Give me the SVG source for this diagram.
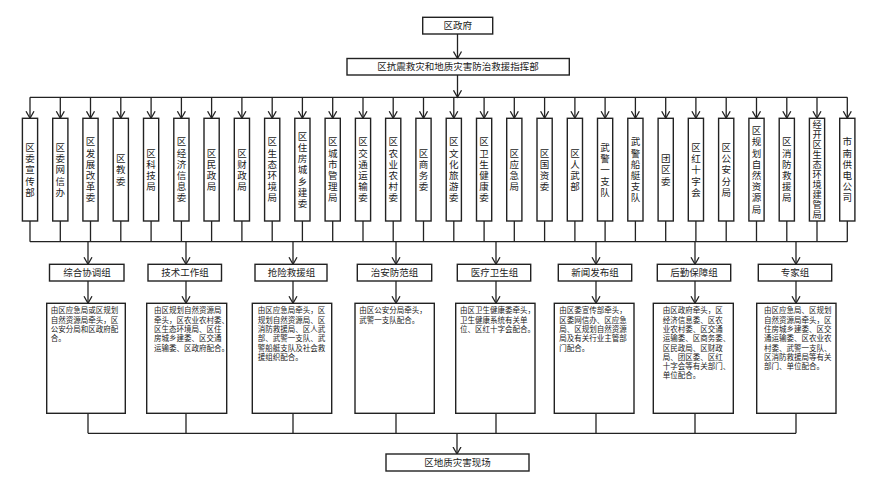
<svg xmlns="http://www.w3.org/2000/svg" width="881" height="482" viewBox="0 0 881 482">
<style>
.b{fill:#fff;stroke:#222;stroke-width:1.4}
.t{font-family:"Liberation Sans","Noto Sans CJK SC",sans-serif;font-size:9.5px;fill:#222;text-anchor:middle}
.v{font-family:"Liberation Sans","Noto Sans CJK SC",sans-serif;font-size:9.5px;fill:#222;text-anchor:middle}
.d{font-family:"Liberation Sans","Noto Sans CJK SC",sans-serif;font-size:7.5px;fill:#222}
.c{fill:none;stroke:#222;stroke-width:1.3}
.a{marker-end:url(#ah)}
</style>
<defs>
<marker id="ah" markerUnits="userSpaceOnUse" markerWidth="9" markerHeight="10" viewBox="0 0 9 10" refX="7.5" refY="5" orient="auto">
<path d="M0.5,1 L7.5,5 L0.5,9" fill="none" stroke="#222" stroke-width="1.3"/>
</marker>
</defs>
<rect width="881" height="482" fill="#fff"/>
<g id="connectors">
<path class="c a" d="M457.5,34 V58.5"/>
<path class="c a" d="M457.5,75 V97.3"/>
<path class="c" d="M30,97.3 H847.3"/>
<path class="c a" d="M30,97.3V118.3"/>
<path class="c a" d="M60.3,97.3V118.3"/>
<path class="c a" d="M90.5,97.3V118.3"/>
<path class="c a" d="M120.8,97.3V118.3"/>
<path class="c a" d="M151.1,97.3V118.3"/>
<path class="c a" d="M181.4,97.3V118.3"/>
<path class="c a" d="M211.6,97.3V118.3"/>
<path class="c a" d="M241.9,97.3V118.3"/>
<path class="c a" d="M272.2,97.3V118.3"/>
<path class="c a" d="M302.4,97.3V118.3"/>
<path class="c a" d="M332.7,97.3V118.3"/>
<path class="c a" d="M363,97.3V118.3"/>
<path class="c a" d="M393.2,97.3V118.3"/>
<path class="c a" d="M423.5,97.3V118.3"/>
<path class="c a" d="M453.8,97.3V118.3"/>
<path class="c a" d="M484.1,97.3V118.3"/>
<path class="c a" d="M514.3,97.3V118.3"/>
<path class="c a" d="M544.6,97.3V118.3"/>
<path class="c a" d="M574.9,97.3V118.3"/>
<path class="c a" d="M605.1,97.3V118.3"/>
<path class="c a" d="M635.4,97.3V118.3"/>
<path class="c a" d="M665.7,97.3V118.3"/>
<path class="c a" d="M695.9,97.3V118.3"/>
<path class="c a" d="M726.2,97.3V118.3"/>
<path class="c a" d="M756.5,97.3V118.3"/>
<path class="c a" d="M786.8,97.3V118.3"/>
<path class="c a" d="M817,97.3V118.3"/>
<path class="c a" d="M847.3,97.3V118.3"/>
<path class="c" d="M30,221V241.7 M60.3,221V241.7 M90.5,221V241.7 M120.8,221V241.7 M151.1,221V241.7 M181.4,221V241.7 M211.6,221V241.7 M241.9,221V241.7 M272.2,221V241.7 M302.4,221V241.7 M332.7,221V241.7 M363,221V241.7 M393.2,221V241.7 M423.5,221V241.7 M453.8,221V241.7 M484.1,221V241.7 M514.3,221V241.7 M544.6,221V241.7 M574.9,221V241.7 M605.1,221V241.7 M635.4,221V241.7 M665.7,221V241.7 M695.9,221V241.7 M726.2,221V241.7 M756.5,221V241.7 M786.8,221V241.7 M817,221V241.7 M847.3,221V241.7"/>
<path class="c" d="M30,241.7 H847.3"/>
<path class="c a" d="M88,241.7V264.3"/>
<path class="c a" d="M186,241.7V264.3"/>
<path class="c a" d="M293,241.7V264.3"/>
<path class="c a" d="M396,241.7V264.3"/>
<path class="c a" d="M496,241.7V264.3"/>
<path class="c a" d="M596,241.7V264.3"/>
<path class="c a" d="M695,241.7V264.3"/>
<path class="c a" d="M796,241.7V264.3"/>
<path class="c a" d="M88,281V303.3"/>
<path class="c a" d="M186,281V303.3"/>
<path class="c a" d="M293,281V303.3"/>
<path class="c a" d="M396,281V303.3"/>
<path class="c a" d="M496,281V303.3"/>
<path class="c a" d="M596,281V303.3"/>
<path class="c a" d="M695,281V303.3"/>
<path class="c a" d="M796,281V303.3"/>
<path class="c" d="M88,413.3V433.3 M186,413.3V433.3 M293,413.3V433.3 M396,413.3V433.3 M496,413.3V433.3 M596,413.3V433.3 M695,413.3V433.3 M796,413.3V433.3 M88,433.3H796"/>
<path class="c a" d="M457,433.3V454"/>
</g>
<g id="n-gov"><rect class="b" x="422.7" y="17.3" width="70" height="16.7"/><text class="t" x="457.7" y="29.1">区政府</text></g>
<g id="n-hq"><rect class="b" x="347" y="58.5" width="222.3" height="16.5"/><text class="t" x="458" y="70.2">区抗震救灾和地质灾害防治救援指挥部</text></g>
<g id="depts">
<g id="d1"><rect class="b" x="22.4" y="118.3" width="15.2" height="102.7"/><text class="v"><tspan x="30" y="150.9">区</tspan><tspan x="30" y="162.1">委</tspan><tspan x="30" y="173.3">宣</tspan><tspan x="30" y="184.5">传</tspan><tspan x="30" y="195.7">部</tspan></text></g>
<g id="d2"><rect class="b" x="52.7" y="118.3" width="15.2" height="102.7"/><text class="v"><tspan x="60.3" y="150.9">区</tspan><tspan x="60.3" y="162.1">委</tspan><tspan x="60.3" y="173.3">网</tspan><tspan x="60.3" y="184.5">信</tspan><tspan x="60.3" y="195.7">办</tspan></text></g>
<g id="d3"><rect class="b" x="82.9" y="118.3" width="15.2" height="102.7"/><text class="v"><tspan x="90.5" y="145.3">区</tspan><tspan x="90.5" y="156.5">发</tspan><tspan x="90.5" y="167.7">展</tspan><tspan x="90.5" y="178.9">改</tspan><tspan x="90.5" y="190.1">革</tspan><tspan x="90.5" y="201.3">委</tspan></text></g>
<g id="d4"><rect class="b" x="113.2" y="118.3" width="15.2" height="102.7"/><text class="v"><tspan x="120.8" y="162.1">区</tspan><tspan x="120.8" y="173.3">教</tspan><tspan x="120.8" y="184.5">委</tspan></text></g>
<g id="d5"><rect class="b" x="143.5" y="118.3" width="15.2" height="102.7"/><text class="v"><tspan x="151.1" y="156.5">区</tspan><tspan x="151.1" y="167.7">科</tspan><tspan x="151.1" y="178.9">技</tspan><tspan x="151.1" y="190.1">局</tspan></text></g>
<g id="d6"><rect class="b" x="173.8" y="118.3" width="15.2" height="102.7"/><text class="v"><tspan x="181.4" y="145.3">区</tspan><tspan x="181.4" y="156.5">经</tspan><tspan x="181.4" y="167.7">济</tspan><tspan x="181.4" y="178.9">信</tspan><tspan x="181.4" y="190.1">息</tspan><tspan x="181.4" y="201.3">委</tspan></text></g>
<g id="d7"><rect class="b" x="204" y="118.3" width="15.2" height="102.7"/><text class="v"><tspan x="211.6" y="156.5">区</tspan><tspan x="211.6" y="167.7">民</tspan><tspan x="211.6" y="178.9">政</tspan><tspan x="211.6" y="190.1">局</tspan></text></g>
<g id="d8"><rect class="b" x="234.3" y="118.3" width="15.2" height="102.7"/><text class="v"><tspan x="241.9" y="156.5">区</tspan><tspan x="241.9" y="167.7">财</tspan><tspan x="241.9" y="178.9">政</tspan><tspan x="241.9" y="190.1">局</tspan></text></g>
<g id="d9"><rect class="b" x="264.6" y="118.3" width="15.2" height="102.7"/><text class="v"><tspan x="272.2" y="145.3">区</tspan><tspan x="272.2" y="156.5">生</tspan><tspan x="272.2" y="167.7">态</tspan><tspan x="272.2" y="178.9">环</tspan><tspan x="272.2" y="190.1">境</tspan><tspan x="272.2" y="201.3">局</tspan></text></g>
<g id="d10"><rect class="b" x="294.8" y="118.3" width="15.2" height="102.7"/><text class="v"><tspan x="302.4" y="139.7">区</tspan><tspan x="302.4" y="150.9">住</tspan><tspan x="302.4" y="162.1">房</tspan><tspan x="302.4" y="173.3">城</tspan><tspan x="302.4" y="184.5">乡</tspan><tspan x="302.4" y="195.7">建</tspan><tspan x="302.4" y="206.9">委</tspan></text></g>
<g id="d11"><rect class="b" x="325.1" y="118.3" width="15.2" height="102.7"/><text class="v"><tspan x="332.7" y="145.3">区</tspan><tspan x="332.7" y="156.5">城</tspan><tspan x="332.7" y="167.7">市</tspan><tspan x="332.7" y="178.9">管</tspan><tspan x="332.7" y="190.1">理</tspan><tspan x="332.7" y="201.3">局</tspan></text></g>
<g id="d12"><rect class="b" x="355.4" y="118.3" width="15.2" height="102.7"/><text class="v"><tspan x="363" y="145.3">区</tspan><tspan x="363" y="156.5">交</tspan><tspan x="363" y="167.7">通</tspan><tspan x="363" y="178.9">运</tspan><tspan x="363" y="190.1">输</tspan><tspan x="363" y="201.3">委</tspan></text></g>
<g id="d13"><rect class="b" x="385.6" y="118.3" width="15.2" height="102.7"/><text class="v"><tspan x="393.2" y="145.3">区</tspan><tspan x="393.2" y="156.5">农</tspan><tspan x="393.2" y="167.7">业</tspan><tspan x="393.2" y="178.9">农</tspan><tspan x="393.2" y="190.1">村</tspan><tspan x="393.2" y="201.3">委</tspan></text></g>
<g id="d14"><rect class="b" x="415.9" y="118.3" width="15.2" height="102.7"/><text class="v"><tspan x="423.5" y="156.5">区</tspan><tspan x="423.5" y="167.7">商</tspan><tspan x="423.5" y="178.9">务</tspan><tspan x="423.5" y="190.1">委</tspan></text></g>
<g id="d15"><rect class="b" x="446.2" y="118.3" width="15.2" height="102.7"/><text class="v"><tspan x="453.8" y="145.3">区</tspan><tspan x="453.8" y="156.5">文</tspan><tspan x="453.8" y="167.7">化</tspan><tspan x="453.8" y="178.9">旅</tspan><tspan x="453.8" y="190.1">游</tspan><tspan x="453.8" y="201.3">委</tspan></text></g>
<g id="d16"><rect class="b" x="476.5" y="118.3" width="15.2" height="102.7"/><text class="v"><tspan x="484.1" y="145.3">区</tspan><tspan x="484.1" y="156.5">卫</tspan><tspan x="484.1" y="167.7">生</tspan><tspan x="484.1" y="178.9">健</tspan><tspan x="484.1" y="190.1">康</tspan><tspan x="484.1" y="201.3">委</tspan></text></g>
<g id="d17"><rect class="b" x="506.7" y="118.3" width="15.2" height="102.7"/><text class="v"><tspan x="514.3" y="156.5">区</tspan><tspan x="514.3" y="167.7">应</tspan><tspan x="514.3" y="178.9">急</tspan><tspan x="514.3" y="190.1">局</tspan></text></g>
<g id="d18"><rect class="b" x="537" y="118.3" width="15.2" height="102.7"/><text class="v"><tspan x="544.6" y="156.5">区</tspan><tspan x="544.6" y="167.7">国</tspan><tspan x="544.6" y="178.9">资</tspan><tspan x="544.6" y="190.1">委</tspan></text></g>
<g id="d19"><rect class="b" x="567.3" y="118.3" width="15.2" height="102.7"/><text class="v"><tspan x="574.9" y="156.5">区</tspan><tspan x="574.9" y="167.7">人</tspan><tspan x="574.9" y="178.9">武</tspan><tspan x="574.9" y="190.1">部</tspan></text></g>
<g id="d20"><rect class="b" x="597.5" y="118.3" width="15.2" height="102.7"/><text class="v"><tspan x="605.1" y="150.9">武</tspan><tspan x="605.1" y="162.1">警</tspan><tspan x="605.1" y="173.3">一</tspan><tspan x="605.1" y="184.5">支</tspan><tspan x="605.1" y="195.7">队</tspan></text></g>
<g id="d21"><rect class="b" x="627.8" y="118.3" width="15.2" height="102.7"/><text class="v"><tspan x="635.4" y="145.3">武</tspan><tspan x="635.4" y="156.5">警</tspan><tspan x="635.4" y="167.7">船</tspan><tspan x="635.4" y="178.9">艇</tspan><tspan x="635.4" y="190.1">支</tspan><tspan x="635.4" y="201.3">队</tspan></text></g>
<g id="d22"><rect class="b" x="658.1" y="118.3" width="15.2" height="102.7"/><text class="v"><tspan x="665.7" y="162.1">团</tspan><tspan x="665.7" y="173.3">区</tspan><tspan x="665.7" y="184.5">委</tspan></text></g>
<g id="d23"><rect class="b" x="688.3" y="118.3" width="15.2" height="102.7"/><text class="v"><tspan x="695.9" y="150.9">区</tspan><tspan x="695.9" y="162.1">红</tspan><tspan x="695.9" y="173.3">十</tspan><tspan x="695.9" y="184.5">字</tspan><tspan x="695.9" y="195.7">会</tspan></text></g>
<g id="d24"><rect class="b" x="718.6" y="118.3" width="15.2" height="102.7"/><text class="v"><tspan x="726.2" y="150.9">区</tspan><tspan x="726.2" y="162.1">公</tspan><tspan x="726.2" y="173.3">安</tspan><tspan x="726.2" y="184.5">分</tspan><tspan x="726.2" y="195.7">局</tspan></text></g>
<g id="d25"><rect class="b" x="748.9" y="118.3" width="15.2" height="102.7"/><text class="v"><tspan x="756.5" y="134.1">区</tspan><tspan x="756.5" y="145.3">规</tspan><tspan x="756.5" y="156.5">划</tspan><tspan x="756.5" y="167.7">自</tspan><tspan x="756.5" y="178.9">然</tspan><tspan x="756.5" y="190.1">资</tspan><tspan x="756.5" y="201.3">源</tspan><tspan x="756.5" y="212.5">局</tspan></text></g>
<g id="d26"><rect class="b" x="779.2" y="118.3" width="15.2" height="102.7"/><text class="v"><tspan x="786.8" y="145.3">区</tspan><tspan x="786.8" y="156.5">消</tspan><tspan x="786.8" y="167.7">防</tspan><tspan x="786.8" y="178.9">救</tspan><tspan x="786.8" y="190.1">援</tspan><tspan x="786.8" y="201.3">局</tspan></text></g>
<g id="d27"><rect class="b" x="809.4" y="118.3" width="15.2" height="102.7"/><text class="v" style="font-size:9.2px"><tspan x="817" y="128.2">经</tspan><tspan x="817" y="138.2">开</tspan><tspan x="817" y="148.2">区</tspan><tspan x="817" y="158.2">生</tspan><tspan x="817" y="168.2">态</tspan><tspan x="817" y="178.2">环</tspan><tspan x="817" y="188.2">境</tspan><tspan x="817" y="198.2">建</tspan><tspan x="817" y="208.2">管</tspan><tspan x="817" y="218.2">局</tspan></text></g>
<g id="d28"><rect class="b" x="839.7" y="118.3" width="15.2" height="102.7"/><text class="v"><tspan x="847.3" y="145.3">市</tspan><tspan x="847.3" y="156.5">南</tspan><tspan x="847.3" y="167.7">供</tspan><tspan x="847.3" y="178.9">电</tspan><tspan x="847.3" y="190.1">公</tspan><tspan x="847.3" y="201.3">司</tspan></text></g>
</g>
<g id="groups">
<g id="g1"><rect class="b" x="49.5" y="264.3" width="74.5" height="16.7"/><text class="t" x="87" y="276.2">综合协调组</text></g>
<g id="g2"><rect class="b" x="148" y="264.3" width="73.5" height="16.7"/><text class="t" x="185" y="276.2">技术工作组</text></g>
<g id="g3"><rect class="b" x="255" y="264.3" width="72" height="16.7"/><text class="t" x="291.5" y="276.2">抢险救援组</text></g>
<g id="g4"><rect class="b" x="357.3" y="264.3" width="74.4" height="16.7"/><text class="t" x="394.5" y="276.2">治安防范组</text></g>
<g id="g5"><rect class="b" x="457.3" y="264.3" width="73.4" height="16.7"/><text class="t" x="494.5" y="276.2">医疗卫生组</text></g>
<g id="g6"><rect class="b" x="558.3" y="264.3" width="73.4" height="16.7"/><text class="t" x="595" y="276.2">新闻发布组</text></g>
<g id="g7"><rect class="b" x="657.3" y="264.3" width="73.4" height="16.7"/><text class="t" x="694" y="276.2">后勤保障组</text></g>
<g id="g8"><rect class="b" x="758.3" y="264.3" width="73.4" height="16.7"/><text class="t" x="795" y="276.2">专家组</text></g>
</g>
<g id="descs">
<g id="e1"><rect class="b" x="46.7" y="303.3" width="78.6" height="110"/><text class="d"><tspan x="50.7" y="313.3">由区应急局或区规划</tspan><tspan x="50.7" y="322.6">自然资源局牵头，区</tspan><tspan x="50.7" y="331.9">公安分局和区政府配</tspan><tspan x="50.7" y="341.2">合。</tspan></text></g>
<g id="e2"><rect class="b" x="146.7" y="303.3" width="80" height="110"/><text class="d"><tspan x="154" y="313.3">由区规划自然资源局</tspan><tspan x="154" y="322.6">牵头，区农业农村委、</tspan><tspan x="154" y="331.9">区生态环境局、区住</tspan><tspan x="154" y="341.2">房城乡建委、区交通</tspan><tspan x="154" y="350.5">运输委、区政府配合。</tspan></text></g>
<g id="e3"><rect class="b" x="252.3" y="303.3" width="79.4" height="110"/><text class="d"><tspan x="257.7" y="313.3">由区应急局牵头，区</tspan><tspan x="257.7" y="322.6">规划自然资源局、区</tspan><tspan x="257.7" y="331.9">消防救援局、区人武</tspan><tspan x="257.7" y="341.2">部、武警一支队、武</tspan><tspan x="257.7" y="350.5">警船艇支队及社会救</tspan><tspan x="257.7" y="359.8">援组织配合。</tspan></text></g>
<g id="e4"><rect class="b" x="355" y="303.3" width="79.3" height="110"/><text class="d"><tspan x="359.3" y="313.3">由区公安分局牵头，</tspan><tspan x="359.3" y="322.6">武警一支队配合。</tspan></text></g>
<g id="e5"><rect class="b" x="455.7" y="303.3" width="79.3" height="110"/><text class="d"><tspan x="460" y="313.3">由区卫生健康委牵头，</tspan><tspan x="460" y="322.6">卫生健康系统有关单</tspan><tspan x="460" y="331.9">位、区红十字会配合。</tspan></text></g>
<g id="e6"><rect class="b" x="554.3" y="303.3" width="79.7" height="110"/><text class="d"><tspan x="559.3" y="313.3">由区委宣传部牵头，</tspan><tspan x="559.3" y="322.6">区委网信办、区应急</tspan><tspan x="559.3" y="331.9">局、区规划自然资源</tspan><tspan x="559.3" y="341.2">局及有关行业主管部</tspan><tspan x="559.3" y="350.5">门配合。</tspan></text></g>
<g id="e7"><rect class="b" x="653.3" y="303.3" width="80" height="110"/><text class="d"><tspan x="662.7" y="313.3">由区政府牵头，区</tspan><tspan x="662.7" y="322.6">经济信息委、区农</tspan><tspan x="662.7" y="331.9">业农村委、区交通</tspan><tspan x="662.7" y="341.2">运输委、区商务委、</tspan><tspan x="662.7" y="350.5">区民政局、区财政</tspan><tspan x="662.7" y="359.8">局、团区委、区红</tspan><tspan x="662.7" y="369.1">十字会等有关部门、</tspan><tspan x="662.7" y="378.4">单位配合。</tspan></text></g>
<g id="e8"><rect class="b" x="756.7" y="303.3" width="79.3" height="110"/><text class="d"><tspan x="764" y="313.3">由区应急局、区规划</tspan><tspan x="764" y="322.6">自然资源局牵头，区</tspan><tspan x="764" y="331.9">住房城乡建委、区交</tspan><tspan x="764" y="341.2">通运输委、区农业农</tspan><tspan x="764" y="350.5">村委、武警一支队、</tspan><tspan x="764" y="359.8">区消防救援局等有关</tspan><tspan x="764" y="369.1">部门、单位配合。</tspan></text></g>
</g>
<g id="n-site"><rect class="b" x="386" y="454" width="143" height="17"/><text class="t" x="457.5" y="466.1">区地质灾害现场</text></g>
</svg>
